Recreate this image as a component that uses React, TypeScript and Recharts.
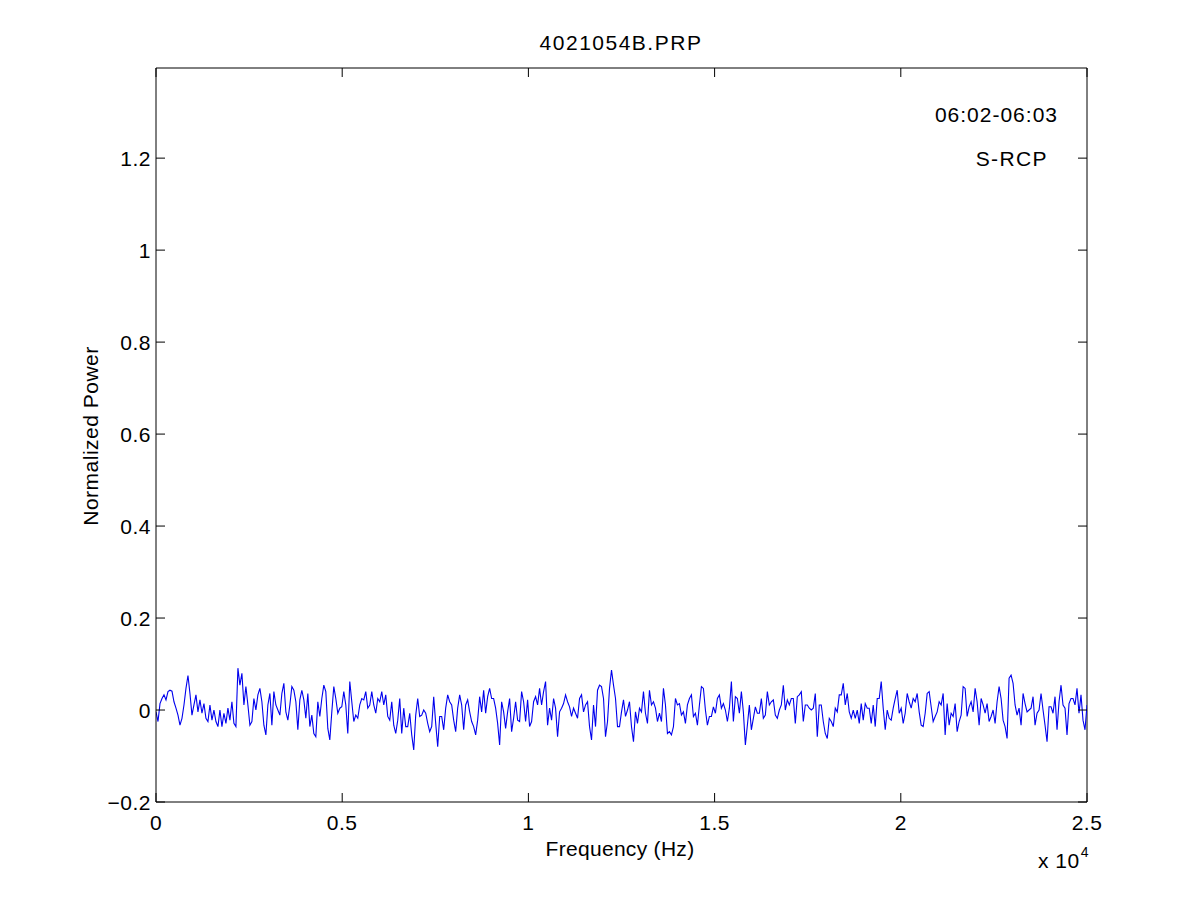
import { LineChart, Line, XAxis, YAxis, ReferenceLine } from 'recharts';

// normalized power, left to right, one sample every ~2px
const powerSeg1 = [
  -0.004, -0.025, 0.014, 0.025, 0.033, 0.022, 0.04, 0.043, 0.041, 0.018,
  0.004, -0.011, -0.033, -0.018, 0.011, 0.047, 0.075, 0.036, -0.011, 0.011,
  0.033, -0.004, 0.022, -0.007, 0.014, -0.018, -0.025, 0.011, -0.022, 0,
  -0.025, -0.036, 0, -0.036, -0.007, -0.029, 0.004, -0.022, 0.018, -0.029,
  -0.036, 0.091, 0.054, 0.08, 0.011, 0.051, 0.011, -0.033, -0.025, 0.025,
  0, 0.033, 0.047, 0.018, -0.033, -0.054, 0.011, 0.036,
];
const powerSeg2 = [
  -0.033, 0.04, 0.011, 0, -0.011, 0.036, 0.058, -0.004, -0.022, 0.011,
  0.051, 0.043, 0.018, -0.043, 0.022, 0.043, 0.022, -0.018, 0.036, -0.036,
  -0.011, -0.051, -0.058, 0.018, -0.014, 0.025, 0.054, 0.04, -0.04, -0.065,
  -0.004, 0.051, 0.025, -0.007, 0.004, 0.007, 0.04, 0.011, -0.051, 0.062,
  0.018, -0.025, -0.011, -0.018, 0.011, 0.025, 0.022, 0.04, 0.004, 0.011,
  0.04, 0.011, -0.007, 0.025, 0.018, 0.04, 0.011,
];
const powerSeg3 = [
  0.033, -0.014, -0.022, 0.018, -0.033, -0.051, -0.022, 0.025, -0.051, 0.004,
  -0.036, -0.036, -0.007, -0.054, -0.087, -0.011, 0.025, -0.014, -0.011, 0,
  -0.007, -0.029, -0.047, -0.036, 0.029, -0.029, -0.08, -0.014, -0.014, -0.043,
  0.004, 0.033, 0.018, 0.011, -0.022, -0.047, 0.004, 0.033, 0.011, -0.043,
  0.011, 0.022, -0.004, -0.025, -0.036, -0.054, -0.022, 0.029, -0.004, 0.043,
  -0.007, 0.029, 0.047, 0.025, 0.025, 0.004, -0.029, -0.076,
];
const powerSeg4 = [
  0.018, -0.004, -0.04, -0.004, 0.025, -0.047, -0.018, 0.018, -0.022, -0.025,
  0.04, 0.018, -0.025, 0.022, -0.036, -0.025, 0.018, 0.029, 0.011, 0.047,
  0.011, 0.04, 0.062, -0.033, 0.004, -0.022, 0.025, 0.004, -0.058, -0.004,
  0.004, 0.014, 0.033, 0.018, 0.007, -0.014, 0.004, -0.007, -0.018, 0.025,
  0.033, -0.004, 0.011, 0.018, -0.036, -0.065, 0.011, -0.036, 0.043, 0.054,
  0.051, 0.025, -0.058, -0.025, 0.047, 0.087, 0.054,
];
const powerSeg5 = [
  0.025, -0.036, -0.036, -0.004, 0.022, -0.014, 0, 0.018, -0.036, -0.069,
  -0.004, -0.029, 0.004, -0.004, 0.04, -0.007, -0.029, 0.043, 0.011, 0.018,
  0.004, -0.025, -0.007, -0.025, 0.047, 0.011, -0.051, -0.047, -0.054, -0.036,
  0.025, 0.011, 0.014, -0.011, -0.004, -0.029, 0.011, 0.025, 0.033, -0.014,
  -0.007, -0.033, 0.011, 0.051, 0.047, 0, -0.033, -0.014, -0.014, 0.007,
  -0.007, 0.025, 0.033, 0.004, 0.014, 0, -0.025, 0.004,
];
const powerSeg6 = [
  0.062, -0.025, 0.029, 0.025, -0.007, 0.04, -0.004, -0.076, -0.033, 0.011,
  -0.043, -0.018, 0.007, -0.007, -0.007, 0.025, -0.018, -0.011, 0.04, 0.011,
  0.018, 0.022, -0.011, -0.018, 0, 0.011, 0.054, 0, 0.022, 0.011,
  0.025, 0.025, -0.029, 0.029, 0.033, 0.04, -0.025, 0.011, 0.011, 0.004,
  0, 0.004, 0.036, -0.058, 0.011, 0.011, -0.025, -0.051, -0.062, -0.018,
  -0.025, -0.036, 0.004, -0.004, 0.033, 0.033, 0.058,
];
const powerSeg7 = [
  0.011, 0.036, -0.004, -0.018, 0, -0.018, 0, -0.029, 0.014, -0.022,
  0.014, 0.004, 0.004, -0.029, 0.011, -0.036, 0.025, 0.025, 0.062, 0.004,
  -0.043, 0, -0.018, -0.022, 0.004, 0.025, 0.043, -0.007, 0.004, -0.029,
  -0.007, 0.036, 0.018, 0.004, 0.025, 0.018, 0.036, -0.004, -0.033, -0.036,
  -0.007, 0.036, 0.04, 0.007, -0.025, -0.014, -0.004, 0.018, 0.011, 0.036,
  -0.054, 0.014, -0.033, -0.007, -0.014, 0.014, -0.047, -0.025,
];
const powerSeg8 = [
  -0.011, 0.051, 0.047, -0.014, 0.007, 0.018, -0.004, 0.047, 0.018, -0.033,
  0.025, 0.011, -0.007, 0.014, -0.025, -0.014, 0, -0.029, 0.018, 0.051,
  0.025, -0.022, -0.036, -0.062, 0.069, 0.076, 0.058, 0.011, -0.011, 0.004,
  -0.033, 0.036, 0.014, -0.004, 0, 0.004, 0.029, -0.033, -0.007, 0,
  0.036, 0, -0.033, -0.069, 0.007, 0.007, -0.007, 0.029, -0.043, 0.018,
  0.054, 0.011, 0.004, -0.054, 0.014, 0.025, 0.025, 0.011, 0.047, -0.007,
  0.033, -0.022, -0.043, 0.011,
];

const power = [
  ...powerSeg1, ...powerSeg2, ...powerSeg3, ...powerSeg4,
  ...powerSeg5, ...powerSeg6, ...powerSeg7, ...powerSeg8,
];

const maxFreq = 25000;
const yMin = -0.2;
const yMax = 1.396;
const xTicks = [0, 5000, 10000, 15000, 20000, 25000];
const yTicks = [-0.2, 0, 0.2, 0.4, 0.6, 0.8, 1, 1.2];

const data = power.map((p, i) => ({ freq: (i * maxFreq) / (power.length - 1), power: p }));

// plot box edges (page pixels)
const W = 1201;
const H = 901;
const BOX_L = 156;
const BOX_R = 1087;
const BOX_T = 68;
const BOX_B = 802;
const TICK = 9;

const font = "'Liberation Sans', Arial, Helvetica, sans-serif";
const FS = 21;

const fmtX = (v: number) => String(v / 10000);
const fmtY = (v: number) => (v < 0 ? '\u2212' + Math.abs(v) : String(v));

// inward ticks on both sides, matlab style
const XTick = (props: any) => {
  const { x, payload } = props;
  return (
    <g>
      <line x1={x} y1={BOX_B} x2={x} y2={BOX_B - TICK} stroke="#000" />
      <line x1={x} y1={BOX_T} x2={x} y2={BOX_T + TICK} stroke="#000" />
      <text
        x={x}
        y={BOX_B + 13}
        dy="0.72em"
        textAnchor="middle"
        fill="#000"
        fontSize={FS}
        fontFamily={font}
        letterSpacing={0.5}
      >
        {fmtX(payload.value)}
      </text>
    </g>
  );
};

const YTick = (props: any) => {
  const { y, payload } = props;
  return (
    <g>
      <line x1={BOX_L} y1={y} x2={BOX_L + TICK} y2={y} stroke="#000" />
      <line x1={BOX_R} y1={y} x2={BOX_R - TICK} y2={y} stroke="#000" />
      <text
        x={BOX_L - 5}
        y={y}
        dy="0.36em"
        textAnchor="end"
        fill="#000"
        fontSize={FS}
        fontFamily={font}
        letterSpacing={0.5}
      >
        {fmtY(payload.value)}
      </text>
    </g>
  );
};

const textBase: React.CSSProperties = {
  position: 'absolute',
  fontFamily: font,
  fontSize: FS,
  color: '#000',
  lineHeight: 1,
  whiteSpace: 'nowrap',
};

const App = () => {
  return (
    <div style={{ position: 'absolute', left: 0, top: 0, width: W, height: H, background: '#fff' }}>
      <LineChart
        width={W}
        height={H}
        data={data}
        margin={{ top: BOX_T, right: W - BOX_R, bottom: 0, left: 0 }}
      >
        <XAxis
          dataKey="freq"
          type="number"
          domain={[0, maxFreq]}
          ticks={xTicks}
          height={H - BOX_B}
          stroke="#000"
          tickLine={false}
          tickSize={0}
          tick={<XTick />}
          allowDataOverflow
        />
        <YAxis
          type="number"
          domain={[yMin, yMax]}
          ticks={yTicks}
          width={BOX_L}
          stroke="#000"
          tickLine={false}
          tickSize={0}
          tick={<YTick />}
          allowDataOverflow
        />
        <ReferenceLine y={yMax} stroke="#000" strokeWidth={1} />
        <ReferenceLine x={maxFreq} stroke="#000" strokeWidth={1} />
        <Line
          type="linear"
          dataKey="power"
          stroke="#0000ee"
          strokeWidth={1.1}
          dot={false}
          isAnimationActive={false}
        />
      </LineChart>

      <div style={{ ...textBase, left: 621, top: 42, letterSpacing: 1.5, transform: 'translate(-50%, -50%)' }}>
        4021054B.PRP
      </div>
      <div style={{ ...textBase, left: 620, top: 848, letterSpacing: 0.3, transform: 'translate(-50%, -50%)' }}>
        Frequency (Hz)
      </div>
      <div
        style={{ ...textBase, left: 90, top: 436, letterSpacing: 0.5, transform: 'translate(-50%, -50%) rotate(-90deg)' }}
      >
        Normalized Power
      </div>
      <div style={{ ...textBase, right: W - 1058, top: 114, letterSpacing: 1, transform: 'translateY(-50%)' }}>
        06:02-06:03
      </div>
      <div style={{ ...textBase, right: W - 1048, top: 158, letterSpacing: 1.4, transform: 'translateY(-50%)' }}>
        S-RCP
      </div>
      <div style={{ ...textBase, left: 1038, top: 860, letterSpacing: 0.5, transform: 'translateY(-50%)' }}>
        x 10<span style={{ fontSize: 14, position: 'relative', top: -11, marginLeft: 1 }}>4</span>
      </div>
    </div>
  );
};

export default App;
